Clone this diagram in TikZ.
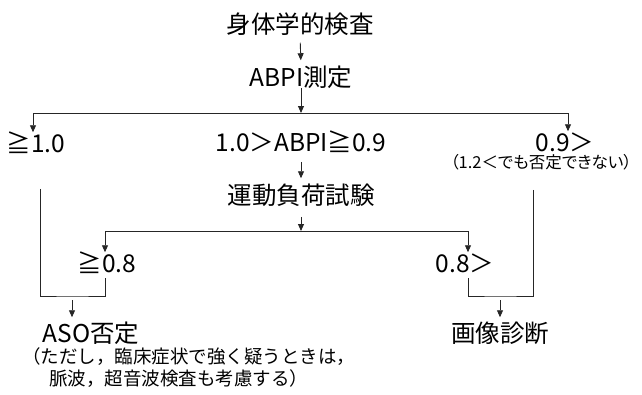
\documentclass[tikz,border=0pt]{standalone}
\usepackage{fontspec}
\setmainfont{Noto Sans CJK JP}
\usetikzlibrary{arrows.meta}
\tikzset{
  lbl/.style={inner sep=0pt, outer sep=0pt, font=\fontsize{24.5}{26}\selectfont, text height=20.3pt, text depth=1.2pt},
  small/.style={inner sep=0pt, outer sep=0pt, font=\fontsize{16.5}{18}\selectfont\addfontfeatures{RawFeature=+palt}, text height=13.7pt, text depth=1.2pt},
  notes/.style={inner sep=0pt, outer sep=0pt, font=\fontsize{18.5}{20}\selectfont, text height=15.4pt, text depth=1.3pt, anchor=west},
  ln/.style={line width=0.9pt, draw=black!85},
  arr/.style={ln, -{Triangle[length=7pt,width=6pt]}},
}
\begin{document}
\begin{tikzpicture}[x=1pt,y=-1pt]
\useasboundingbox (0,0) rectangle (642,394);
% nodes
\node[lbl] (title) at (300,24) {身体学的検査};
\node[lbl] (abpi) at (301,77) {ABPI測定};
\node[lbl] (geq10) at (36,143) {≧1.0};
\node[lbl] (mid) at (301,142) {1.0＞ABPI≧0.9};
\node[lbl] (lt09) at (565,142) {0.9＞};
\node[small] (note09) at (541,162) {（1.2＜でも否定できない）};
\node[lbl] (exer) at (301,195) {運動負荷試験};
\node[lbl] (geq08) at (107,263) {≧0.8};
\node[lbl] (lt08) at (465,263) {0.8＞};
\node[lbl] (aso) at (91,333) {ASO否定};
\node[lbl] (img) at (500,333) {画像診断};
\node[notes] (note1) at (22,356) {（ただし，臨床症状で強く疑うときは，};
\node[notes] (note2) at (49,378) {脈波，超音波検査も考慮する）};
% junction points
\coordinate (s1) at (301,113);
\coordinate (s2) at (301,231);
\coordinate (m1) at (72,296);
\coordinate (m2) at (500,296);
% connectors
\draw[arr, shorten <=8pt, shorten >=6pt] (title.south) -- (abpi.north);
\draw[arr] (abpi.south) -- (s1);
\draw[arr] (s1) -| ([xshift=-3pt]geq10.north);
\draw[arr] (s1) -| ([xshift=3pt]lt09.north);
\draw[arr, shorten <=9pt, shorten >=6pt] (mid.south) -- (exer.north);
\draw[arr, shorten <=11pt] (exer.south) -- (s2);
\draw[arr] (s2) -| ([xshift=-2pt]geq08.north);
\draw[arr] (s2) -| ([xshift=3pt]lt08.north);
% merges
\draw[ln] ([xshift=-8pt,yshift=-20.5pt]note09.south) |- (m2) -| ([xshift=3pt,yshift=-4pt]lt08.south);
\draw[ln] ([xshift=4pt,yshift=-35pt]geq10.south) |- (m1) -| ([xshift=-2pt,yshift=-4pt]geq08.south);
\draw[arr, shorten <=4pt, shorten >=5pt] (m1) -- (m1 |- aso.north);
\draw[arr, shorten <=4pt, shorten >=5pt] (m2) -- (img.north);
\end{tikzpicture}
\end{document}
